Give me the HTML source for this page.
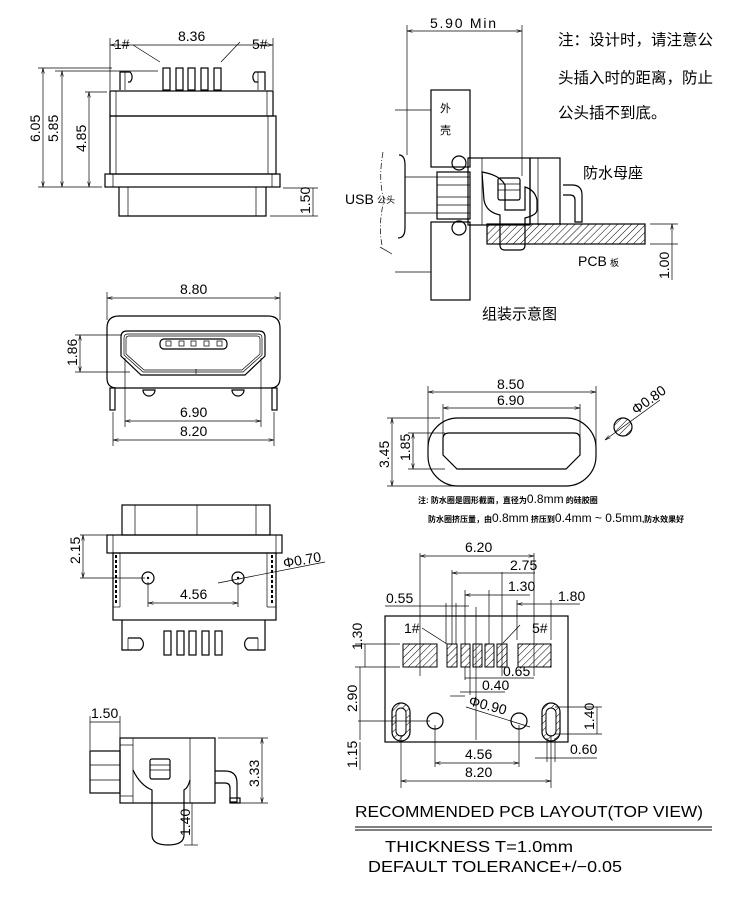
<!DOCTYPE html>
<html><head><meta charset="utf-8"><style>
html,body{margin:0;padding:0;background:#fff}
svg{display:block}
text{font-family:"Liberation Sans","Noto Sans CJK SC",sans-serif;fill:#000}
.l{stroke:#000;stroke-width:1.2;fill:none}
.t{stroke:#000;stroke-width:0.7;fill:none}
.d{font-size:14px}
</style></head><body>
<svg width="750" height="900" viewBox="0 0 750 900" xmlns="http://www.w3.org/2000/svg">
<defs>
<pattern id="h" width="5" height="5" patternUnits="userSpaceOnUse" patternTransform="rotate(45)"><line x1="0" y1="0" x2="0" y2="5" stroke="#000" stroke-width="1"/></pattern>
<marker id="a" markerWidth="8" markerHeight="6" refX="8" refY="3" orient="auto-start-reverse"><path d="M0,1 L8,3 L0,5" fill="none" stroke="#000" stroke-width="0.8"/></marker>
</defs>

<!-- View 1 top-left -->
<g>
<line class="t" x1="110" y1="38" x2="110" y2="90"/><line class="t" x1="273" y1="38" x2="273" y2="90"/>
<line class="t" x1="110" y1="45" x2="273" y2="45" marker-start="url(#a)" marker-end="url(#a)"/>
<text class="d" x="178" y="41">8.36</text>
<text class="d" x="114" y="49">1#</text><text class="d" x="252" y="49">5#</text>
<line class="t" x1="133" y1="45" x2="160" y2="62"/><line class="t" x1="240" y1="42" x2="221" y2="62"/>
<path class="l" d="M120,90 V72 H130 A7,7 0 0 1 130,82 H128"/><line class="t" x1="125" y1="72" x2="125" y2="90"/>
<path class="l" d="M265,90 V72 H255 A7,7 0 0 0 255,82 H258"/><line class="t" x1="258" y1="72" x2="258" y2="90"/>
<g class="l"><rect x="163" y="68" width="7" height="22"/><rect x="176" y="68" width="7" height="22"/><rect x="188" y="68" width="7" height="22"/><rect x="201" y="68" width="7" height="22"/><rect x="214" y="68" width="7" height="22"/></g>
<rect class="l" x="110" y="91" width="163" height="25"/>
<line class="t" x1="116" y1="91" x2="116" y2="116"/><line class="t" x1="267" y1="91" x2="267" y2="116"/>
<rect class="l" x="110" y="116" width="166" height="58"/>
<line class="t" x1="116" y1="116" x2="116" y2="174"/><line class="t" x1="268" y1="116" x2="268" y2="174"/>
<rect class="l" x="105" y="174" width="175" height="13"/>
<line class="t" x1="113" y1="174" x2="113" y2="187"/><line class="t" x1="272" y1="174" x2="272" y2="187"/>
<path class="l" d="M119,187 V216 H266 V187"/><line class="t" x1="128" y1="187" x2="128" y2="216"/><line class="t" x1="256" y1="187" x2="256" y2="216"/>
<line class="t" x1="38" y1="68" x2="112" y2="68"/><line class="t" x1="55" y1="71" x2="158" y2="71"/><line class="t" x1="85" y1="92" x2="107" y2="92"/><line class="t" x1="38" y1="187" x2="102" y2="187"/>
<line class="t" x1="43" y1="68" x2="43" y2="187" marker-start="url(#a)" marker-end="url(#a)"/>
<line class="t" x1="62" y1="71" x2="62" y2="187" marker-start="url(#a)" marker-end="url(#a)"/>
<line class="t" x1="89" y1="92" x2="89" y2="187" marker-start="url(#a)" marker-end="url(#a)"/>
<text class="d" transform="translate(40,142) rotate(-90)">6.05</text>
<text class="d" transform="translate(58,142) rotate(-90)">5.85</text>
<text class="d" transform="translate(86,152) rotate(-90)">4.85</text>
<line class="t" x1="283" y1="188" x2="318" y2="188"/><line class="t" x1="270" y1="216" x2="318" y2="216"/>
<line class="t" x1="313" y1="188" x2="313" y2="216"/>
<text class="d" transform="translate(310,214) rotate(-90)">1.50</text>
</g>

<!-- View 2 front -->
<g>
<line class="t" x1="107" y1="292" x2="107" y2="320"/><line class="t" x1="280" y1="292" x2="280" y2="320"/>
<line class="t" x1="107" y1="298" x2="280" y2="298" marker-start="url(#a)" marker-end="url(#a)"/>
<text class="d" x="180" y="294">8.80</text>
<path class="l" d="M107,328 Q107,316 119,316 H268 Q280,316 280,328 V378 Q280,388 270,388 H117 Q107,388 107,378 Z"/>
<path class="l" d="M121,337 Q121,331 127,331 H259 Q265,331 265,337 V356 L245,375 H141 L121,356 Z"/>
<path class="t" d="M124,338 Q124,334 128,334 H258 Q262,334 262,338 V355 L243,372 H143 L124,355 Z"/>
<path class="t" d="M126,339 Q126,336 129,336 H257 Q260,336 260,339 V354 L242,370 H144 L126,354 Z"/>
<rect class="l" x="160" y="339" width="67" height="10" rx="4"/>
<g class="t"><rect x="166" y="341" width="5" height="5"/><rect x="179" y="341" width="5" height="5"/><rect x="191" y="341" width="5" height="5"/><rect x="204" y="341" width="5" height="5"/><rect x="217" y="341" width="5" height="5"/></g>
<line class="t" x1="196" y1="369" x2="196" y2="374"/>
<path class="l" d="M143,390 A6,6 0 0 0 155,390 Z"/><path class="l" d="M232,390 A6,6 0 0 0 244,390 Z"/>
<rect class="l" x="110" y="388" width="5" height="22"/><rect class="l" x="272" y="388" width="5" height="22"/>
<line class="t" x1="75" y1="335" x2="122" y2="335"/><line class="t" x1="75" y1="372" x2="130" y2="372"/>
<line class="t" x1="80" y1="335" x2="80" y2="372" marker-start="url(#a)" marker-end="url(#a)"/>
<text class="d" transform="translate(77,366) rotate(-90)">1.86</text>
<line class="t" x1="125" y1="358" x2="125" y2="427"/><line class="t" x1="261" y1="358" x2="261" y2="427"/>
<line class="t" x1="125" y1="421" x2="261" y2="421" marker-start="url(#a)" marker-end="url(#a)"/>
<text class="d" x="180" y="417">6.90</text>
<line class="t" x1="113" y1="412" x2="113" y2="446"/><line class="t" x1="274" y1="412" x2="274" y2="446"/>
<line class="t" x1="113" y1="440" x2="274" y2="440" marker-start="url(#a)" marker-end="url(#a)"/>
<text class="d" x="180" y="436">8.20</text>
</g>

<!-- View 3 assembly -->
<g>
<line class="t" x1="407" y1="25" x2="407" y2="155"/><line class="t" x1="522" y1="25" x2="522" y2="176"/>
<line class="t" x1="407" y1="31" x2="522" y2="31" marker-start="url(#a)" marker-end="url(#a)"/>
<text class="d" x="430" y="28" textLength="66">5.90 Min</text>
<rect class="l" x="431" y="90" width="39" height="77"/>
<rect class="l" x="431" y="222" width="39" height="78"/>
<text x="440" y="112" style="font-size:11px">外</text><text x="440" y="134" style="font-size:11px">壳</text>
<circle class="l" cx="459" cy="163" r="7"/><circle class="l" cx="459" cy="228" r="7"/>
<path class="l" d="M399,155 Q405,155 405,165 V228 Q405,238 398,238"/>
<path class="t" d="M383,152 Q378,180 384,200 Q378,225 382,245" stroke-dasharray="6,2,1,2"/>
<line class="t" x1="380" y1="247" x2="392" y2="254"/>
<line class="t" x1="405" y1="177" x2="470" y2="177"/><line class="t" x1="405" y1="213" x2="470" y2="213"/>
<rect class="l" x="437" y="172" width="33" height="47"/>
<line class="t" x1="437" y1="185" x2="470" y2="185"/><line class="t" x1="437" y1="197" x2="470" y2="197"/><line class="t" x1="437" y1="205" x2="470" y2="205"/>
<rect class="l" x="468" y="158" width="62" height="67"/>
<line class="t" x1="482" y1="158" x2="482" y2="225"/><line class="t" x1="538" y1="158" x2="538" y2="225"/>
<rect class="l" x="530" y="158" width="30" height="66"/>
<path class="l" d="M482,172 Q500,175 505,185 V210 H525 V187 Q535,190 537,200 V210 Q537,215 525,218 V245 Q525,250 520,250 H505 Q500,250 500,245 V215 Q486,212 484,200 Z"/>
<rect class="l" x="498" y="178" width="22" height="22" rx="2"/>
<line class="t" x1="498" y1="184" x2="520" y2="184"/><line class="t" x1="498" y1="190" x2="520" y2="190"/>
<path class="l" d="M563,185 H572 Q582,185 582,195 V222 H575 V200 Q575,195 570,195 H563"/>
<rect x="487" y="224" width="158" height="20" fill="url(#h)" stroke="#000" stroke-width="1.2"/>
<line class="t" x1="650" y1="224" x2="678" y2="224"/><line class="t" x1="650" y1="244" x2="678" y2="244"/>
<line class="t" x1="672" y1="224" x2="672" y2="280" marker-start="url(#a)"/>
<text class="d" transform="translate(669,279) rotate(-90)">1.00</text>
<line class="t" x1="395" y1="110" x2="431" y2="110"/><line class="t" x1="395" y1="272" x2="431" y2="272"/>
<text x="345" y="204" style="font-size:14px">USB</text><text x="377" y="203" style="font-size:9px">公头</text>
<text x="578" y="266" style="font-size:14px">PCB</text><text x="610" y="266" style="font-size:9px">板</text>
<text x="583" y="178" style="font-size:15px">防水母座</text>
<text x="482" y="319" style="font-size:15px">组装示意图</text>
<text x="558" y="45" style="font-size:15.5px">注：设计时，请注意公</text>
<text x="558" y="83" style="font-size:15.5px">头插入时的距离，防止</text>
<text x="558" y="118" style="font-size:15.5px">公头插不到底。</text>
</g>

<!-- View 4 seal -->
<g>
<line class="t" x1="428" y1="386" x2="428" y2="452"/><line class="t" x1="596" y1="386" x2="596" y2="452"/>
<line class="t" x1="428" y1="392" x2="596" y2="392" marker-start="url(#a)" marker-end="url(#a)"/>
<text class="d" x="497" y="389">8.50</text>
<line class="t" x1="443" y1="404" x2="443" y2="445"/><line class="t" x1="580" y1="404" x2="580" y2="445"/>
<line class="t" x1="443" y1="408" x2="580" y2="408" marker-start="url(#a)" marker-end="url(#a)"/>
<text class="d" x="497" y="405">6.90</text>
<rect class="l" x="428" y="418" width="168" height="68" rx="30"/>
<path class="l" d="M449,433 H574 Q580,433 580,439 V455 L566,469 H457 L443,455 V439 Q443,433 449,433 Z"/>
<line class="t" x1="387" y1="418" x2="440" y2="418"/><line class="t" x1="387" y1="486" x2="455" y2="486"/>
<line class="t" x1="392" y1="418" x2="392" y2="486" marker-start="url(#a)" marker-end="url(#a)"/>
<text class="d" transform="translate(389,468) rotate(-90)">3.45</text>
<line class="t" x1="408" y1="433" x2="445" y2="433"/><line class="t" x1="408" y1="469" x2="445" y2="469"/>
<line class="t" x1="413" y1="433" x2="413" y2="469" marker-start="url(#a)" marker-end="url(#a)"/>
<text class="d" transform="translate(410,461) rotate(-90)">1.85</text>
<circle cx="623" cy="427" r="9" fill="url(#h)" stroke="#000" stroke-width="1.2"/>
<line class="t" x1="605" y1="440" x2="660" y2="400" marker-start="url(#a)"/>
<text class="d" transform="translate(636,415) rotate(-36)">Φ0.80</text>
<text x="418" y="503" style="font-size:8px;font-weight:bold">注: 防水圈是圆形截面，直径为<tspan style="font-size:12px;font-weight:normal">0.8mm</tspan> 的硅胶圈</text>
<text x="428" y="522" style="font-size:8px;font-weight:bold">防水圈挤压量，由<tspan style="font-size:12px;font-weight:normal">0.8mm</tspan> 挤压到<tspan style="font-size:12px;font-weight:normal">0.4mm  ~  0.5mm</tspan>,防水效果好</text>
</g>

<!-- View 5 bottom -->
<g>
<rect class="l" x="122" y="505" width="148" height="30"/>
<line class="t" x1="135" y1="505" x2="135" y2="535"/><line class="t" x1="197" y1="505" x2="197" y2="535"/><line class="t" x1="256" y1="505" x2="256" y2="535"/>
<rect class="l" x="107" y="535" width="175" height="18"/>
<line class="t" x1="113" y1="535" x2="113" y2="553"/><line class="t" x1="276" y1="535" x2="276" y2="553"/>
<rect class="l" x="113" y="553" width="163" height="67"/>
<line class="t" x1="120" y1="553" x2="120" y2="607"/><line class="t" x1="267" y1="553" x2="267" y2="607"/>
<line class="t" x1="113" y1="607" x2="120" y2="607"/><line class="t" x1="267" y1="607" x2="276" y2="607"/>
<line x1="116" y1="555" x2="116" y2="605" stroke="#000" stroke-width="2" stroke-dasharray="3,2"/>
<line x1="272" y1="555" x2="272" y2="605" stroke="#000" stroke-width="2" stroke-dasharray="3,2"/>
<circle class="l" cx="148" cy="578" r="6"/><circle cx="148" cy="578" r="1.2"/>
<circle class="l" cx="238" cy="578" r="6"/><circle cx="238" cy="578" r="1.2"/>
<line class="t" x1="80" y1="535" x2="107" y2="535"/><line class="t" x1="80" y1="578" x2="145" y2="578"/>
<line class="t" x1="83" y1="535" x2="83" y2="578" marker-start="url(#a)" marker-end="url(#a)"/>
<text class="d" transform="translate(80,564) rotate(-90)">2.15</text>
<line class="t" x1="148" y1="582" x2="148" y2="607"/><line class="t" x1="238" y1="582" x2="238" y2="607"/>
<line class="t" x1="148" y1="603" x2="238" y2="603" marker-start="url(#a)" marker-end="url(#a)"/>
<text class="d" x="180" y="599">4.56</text>
<line class="t" x1="218" y1="583" x2="325" y2="562"/>
<text class="d" transform="translate(284,568) rotate(-10)">Φ0.70</text>
<path class="l" d="M122,620 V650 H140 A7,7 0 0 0 140,638 H128"/><line class="t" x1="128" y1="638" x2="128" y2="650"/>
<path class="l" d="M265,620 V650 H248 A7,7 0 0 1 248,638 H258"/><line class="t" x1="258" y1="638" x2="258" y2="650"/>
<g class="l"><rect x="164" y="631" width="7" height="24"/><rect x="177" y="631" width="7" height="24"/><rect x="189" y="631" width="7" height="24"/><rect x="202" y="631" width="7" height="24"/><rect x="215" y="631" width="7" height="24"/></g>
</g>

<!-- View 6 side -->
<g>
<line class="t" x1="90" y1="716" x2="90" y2="750"/><line class="t" x1="120" y1="716" x2="120" y2="738"/>
<line class="t" x1="90" y1="722" x2="120" y2="722"/>
<text class="d" x="91" y="718">1.50</text>
<rect class="l" x="90" y="751" width="30" height="42"/>
<line class="t" x1="90" y1="765" x2="120" y2="765"/><line class="t" x1="90" y1="780" x2="120" y2="780"/>
<rect class="l" x="120" y="738" width="95" height="65"/>
<line class="t" x1="133" y1="738" x2="133" y2="803"/><line class="t" x1="190" y1="738" x2="190" y2="803"/>
<line class="t" x1="120" y1="745" x2="133" y2="745"/><line class="t" x1="120" y1="796" x2="133" y2="796"/>
<path class="l" d="M133,770 Q140,785 152,790 V835 Q152,845 168,845 Q184,845 184,835 V790 Q188,788 190,780"/>
<rect class="l" x="150" y="759" width="20" height="20" rx="2"/>
<line class="t" x1="150" y1="765" x2="170" y2="765"/><line class="t" x1="150" y1="770" x2="170" y2="770"/>
<path class="l" d="M215,771 H225 Q237,771 237,783 V802 H230 V788 Q230,783 225,783 H215"/>
<rect class="l" x="230" y="798" width="10" height="5"/>
<line class="t" x1="218" y1="738" x2="268" y2="738"/><line class="t" x1="240" y1="803" x2="268" y2="803"/>
<line class="t" x1="262" y1="738" x2="262" y2="803" marker-start="url(#a)" marker-end="url(#a)"/>
<text class="d" transform="translate(259,787) rotate(-90)">3.33</text>
<line class="t" x1="188" y1="803" x2="198" y2="803"/><line class="t" x1="184" y1="845" x2="198" y2="845"/>
<line class="t" x1="192" y1="803" x2="192" y2="845"/>
<text class="d" transform="translate(190,836) rotate(-90)">1.40</text>
</g>

<!-- View 7 PCB -->
<g>
<rect class="l" x="385" y="616" width="183" height="126"/>
<rect x="403" y="644" width="34" height="23" fill="url(#h)" stroke="#000" stroke-width="1"/>
<rect x="518" y="644" width="33" height="23" fill="url(#h)" stroke="#000" stroke-width="1"/>
<rect x="447" y="644" width="10" height="23" fill="url(#h)" stroke="#000" stroke-width="1"/>
<rect x="461" y="644" width="9" height="23" fill="url(#h)" stroke="#000" stroke-width="1"/>
<rect x="473" y="644" width="9" height="23" fill="url(#h)" stroke="#000" stroke-width="1"/>
<rect x="485" y="644" width="9" height="23" fill="url(#h)" stroke="#000" stroke-width="1"/>
<rect x="497" y="644" width="10" height="23" fill="url(#h)" stroke="#000" stroke-width="1"/>
<rect x="392" y="703" width="18" height="38" rx="9" fill="url(#h)" stroke="#000" stroke-width="1.2"/>
<rect x="396" y="708" width="10" height="28" rx="5" fill="#fff" stroke="#000" stroke-width="1"/>
<rect x="542" y="703" width="18" height="38" rx="9" fill="url(#h)" stroke="#000" stroke-width="1.2"/>
<rect x="546" y="708" width="10" height="28" rx="5" fill="#fff" stroke="#000" stroke-width="1"/>
<circle class="l" cx="435" cy="721" r="8"/><circle class="l" cx="519" cy="721" r="8"/>
<text class="d" x="404" y="633">1#</text><text class="d" x="532" y="633">5#</text>
<line class="t" x1="422" y1="628" x2="447" y2="644"/><line class="t" x1="520" y1="625" x2="503" y2="643"/>
<line class="t" x1="420" y1="553" x2="420" y2="676"/><line class="t" x1="534" y1="553" x2="534" y2="676"/>
<line class="t" x1="420" y1="556" x2="534" y2="556" marker-start="url(#a)" marker-end="url(#a)"/>
<text class="d" x="465" y="552">6.20</text>
<line class="t" x1="452" y1="570" x2="452" y2="644"/><line class="t" x1="502" y1="572" x2="502" y2="676"/>
<line class="t" x1="452" y1="573" x2="535" y2="573" marker-start="url(#a)"/>
<text class="d" x="510" y="570">2.75</text>
<line class="t" x1="465" y1="590" x2="465" y2="644"/><line class="t" x1="489" y1="590" x2="489" y2="644"/>
<line class="t" x1="465" y1="595" x2="530" y2="595" marker-start="url(#a)"/>
<text class="d" x="508" y="591">1.30</text>
<line class="t" x1="517" y1="600" x2="517" y2="640"/><line class="t" x1="551" y1="600" x2="551" y2="640"/>
<line class="t" x1="517" y1="604" x2="580" y2="604" marker-start="url(#a)"/>
<text class="d" x="558" y="601">1.80</text>
<line class="t" x1="446" y1="603" x2="446" y2="644"/><line class="t" x1="456" y1="603" x2="456" y2="644"/>
<line class="t" x1="385" y1="606" x2="469" y2="606"/>
<text class="d" x="386" y="603">0.55</text>
<line class="t" x1="476" y1="607" x2="476" y2="740"/>
<line class="t" x1="465" y1="667" x2="465" y2="680"/><line class="t" x1="470" y1="667" x2="470" y2="695"/>
<line class="t" x1="465" y1="678" x2="534" y2="678"/><text class="d" x="503" y="676">0.65</text>
<line class="t" x1="460" y1="692" x2="505" y2="692"/><text class="d" x="482" y="690">0.40</text>
<line class="t" x1="450" y1="696" x2="465" y2="696"/>
<line class="t" x1="466" y1="707" x2="530" y2="727"/>
<text class="d" transform="translate(468,705) rotate(15)">Φ0.90</text>
<line class="t" x1="355" y1="644" x2="400" y2="644"/><line class="t" x1="355" y1="667" x2="400" y2="667"/>
<line class="t" x1="365" y1="644" x2="365" y2="667"/>
<text class="d" transform="translate(362,650) rotate(-90)">1.30</text>
<line class="t" x1="360" y1="667" x2="360" y2="740"/><line class="t" x1="358" y1="721" x2="430" y2="721"/>
<text class="d" transform="translate(357,712) rotate(-90)">2.90</text>
<line class="t" x1="360" y1="742" x2="360" y2="770"/>
<text class="d" transform="translate(357,768) rotate(-90)">1.15</text>
<line class="t" x1="401" y1="735" x2="401" y2="788"/><line class="t" x1="551" y1="735" x2="551" y2="788"/>
<line class="t" x1="435" y1="725" x2="435" y2="767"/><line class="t" x1="519" y1="725" x2="519" y2="767"/>
<line class="t" x1="435" y1="763" x2="519" y2="763" marker-start="url(#a)" marker-end="url(#a)"/>
<text class="d" x="465" y="759">4.56</text>
<line class="t" x1="401" y1="781" x2="551" y2="781" marker-start="url(#a)" marker-end="url(#a)"/>
<text class="d" x="465" y="777">8.20</text>
<line class="t" x1="555" y1="707" x2="602" y2="707"/><line class="t" x1="555" y1="734" x2="602" y2="734"/>
<line class="t" x1="597" y1="707" x2="597" y2="734"/>
<text class="d" transform="translate(594,730) rotate(-90)">1.40</text>
<line class="t" x1="547" y1="738" x2="547" y2="762"/><line class="t" x1="555" y1="738" x2="555" y2="762"/>
<line class="t" x1="535" y1="758" x2="597" y2="758"/>
<text class="d" x="570" y="754">0.60</text>
</g>

<text x="355" y="817" style="font-size:16px" textLength="348" lengthAdjust="spacingAndGlyphs">RECOMMENDED PCB LAYOUT(TOP VIEW)</text>
<line x1="355" y1="827" x2="712" y2="827" stroke="#000" stroke-width="1"/>
<line x1="355" y1="830" x2="712" y2="830" stroke="#000" stroke-width="1"/>
<text x="385" y="852" style="font-size:16px" textLength="188" lengthAdjust="spacingAndGlyphs">THICKNESS T=1.0mm</text>
<text x="368" y="872" style="font-size:16px" textLength="254" lengthAdjust="spacingAndGlyphs">DEFAULT TOLERANCE+/−0.05</text>
</svg>
</body></html>
